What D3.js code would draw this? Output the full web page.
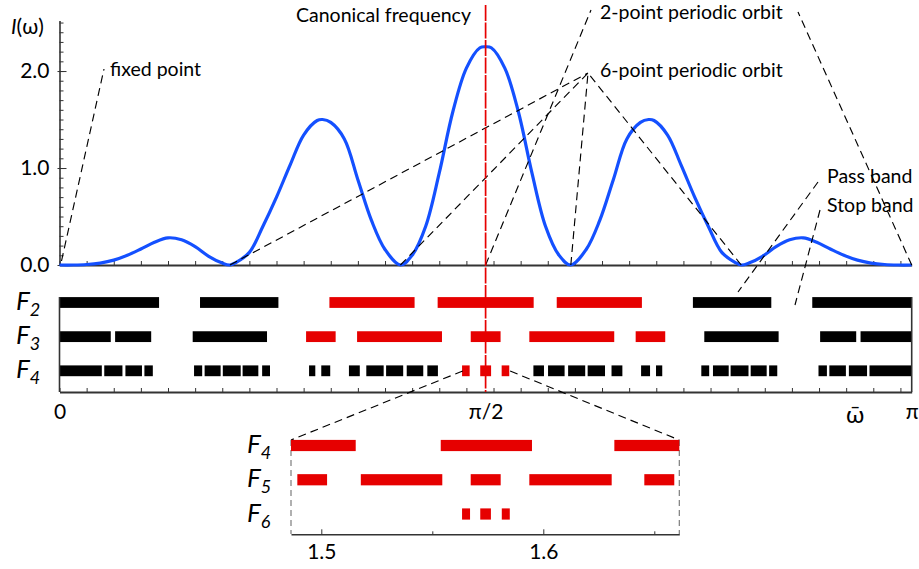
<!DOCTYPE html>
<html>
<head>
<meta charset="utf-8">
<script src="https://cdn.jsdelivr.net/npm/d3@7"></script>
<style>
  body { margin: 0; background: #fff; }
  svg { display: block; }
  text { font-family: Lato, "Open Sans", "DejaVu Sans", sans-serif; fill: #000; }
</style>
</head>
<body>
<svg id="chart" width="919" height="569"></svg>
<script>
// spectrum I(omega)
const omega = [0, 0.05, 0.10, 0.15, 0.20, 0.25, 0.30, 0.35, 0.40, 0.45, 0.50, 0.55, 0.60, 0.628, 0.65, 0.70,
  0.75, 0.80, 0.85, 0.90, 0.95, 0.97, 1.00, 1.05, 1.10, 1.15, 1.20, 1.257, 1.30, 1.35, 1.40, 1.45, 1.50, 1.55,
  1.5708,
  1.5916, 1.6416, 1.6916, 1.7416, 1.7916, 1.8416, 1.8846, 1.9416, 1.9916, 2.0416, 2.0916, 2.1416, 2.1716,
  2.1916, 2.2416, 2.2916, 2.3416, 2.3916, 2.4416, 2.4916, 2.5136, 2.5416, 2.5916, 2.6416, 2.6916, 2.7416,
  2.7916, 2.8416, 2.8916, 2.9416, 2.9916, 3.0416, 3.0916, 3.1416];
const intensity = [0, 0, 0.005, 0.02, 0.05, 0.10, 0.165, 0.235, 0.28, 0.26, 0.19, 0.09, 0.02, 0, 0.025, 0.13,
  0.40, 0.70, 1.03, 1.34, 1.49, 1.50, 1.47, 1.30, 0.88, 0.46, 0.16, 0, 0.10, 0.40, 0.95, 1.58, 2.03, 2.24,
  2.25,
  2.24, 2.03, 1.58, 0.95, 0.40, 0.10, 0, 0.16, 0.46, 0.88, 1.30, 1.47, 1.50,
  1.49, 1.34, 1.03, 0.70, 0.40, 0.13, 0.025, 0, 0.02, 0.09, 0.19, 0.26, 0.28,
  0.235, 0.165, 0.10, 0.05, 0.02, 0.005, 0, 0];

// pass bands [from, to] for each generation
const rowNames = ["F2", "F3", "F4"];
const bandsF2 = [[0, 0.367], [0.518, 0.807], [0.995, 1.309], [1.394, 1.748], [1.833, 2.147], [2.335, 2.624], [2.775, 3.1416]];
const bandsF3 = [[0, 0.189], [0.205, 0.338], [0.491, 0.765], [0.909, 1.018], [1.097, 1.410], [1.516, 1.626],
  [1.732, 2.045], [2.124, 2.233], [2.377, 2.651], [2.804, 2.937], [2.953, 3.1416]];
const bandsF4 = [[0, 0.156], [0.165, 0.232], [0.243, 0.304], [0.313, 0.344], [0.496, 0.526], [0.535, 0.594],
  [0.602, 0.668], [0.675, 0.733], [0.747, 0.776], [0.920, 0.943], [0.965, 0.998], [1.067, 1.107],
  [1.131, 1.195], [1.204, 1.267], [1.280, 1.341], [1.356, 1.395], [1.484, 1.512], [1.551, 1.591],
  [1.630, 1.658], [1.747, 1.786], [1.801, 1.862], [1.875, 1.938], [1.947, 2.011], [2.035, 2.075],
  [2.144, 2.177], [2.199, 2.222], [2.366, 2.395], [2.409, 2.467], [2.474, 2.540], [2.548, 2.607],
  [2.616, 2.646], [2.798, 2.829], [2.838, 2.899], [2.910, 2.977], [2.986, 3.1416]];
// cluster of bands around the canonical frequency (drawn red)
const canonicalSpan = [[0.99, 2.15], [0.90, 2.24], [1.48, 1.66]];

// zoomed inset
const insetRowNames = ["F4", "F5", "F6"];
const insetDomain = [1.48635, 1.66126];
const insetF4 = [[1.48635, 1.5155], [1.5538, 1.5949], [1.6320, 1.66126]];
const insetF5 = [[1.4892, 1.5026], [1.5178, 1.5545], [1.5673, 1.5808], [1.5937, 1.6308], [1.6455, 1.6590]];
const insetF6 = [[1.5634, 1.5670], [1.5716, 1.5764], [1.5813, 1.5849]];
const insetMajorTicks = [1.5, 1.6];
const insetMinorTicks = [1.55, 1.65];

const canonical = Math.PI / 2;
const omegaBar = 2.933;
const xLabelValues = [0, Math.PI / 2, Math.PI];
const xLabelText = ["0", "\u03c0/2", "\u03c0"];
const yLabelValues = [0, 1, 2];
const fixedPointTargets = [0];
const twoPointTargets = [Math.PI / 2, Math.PI];
const sixPointTargets = [Math.PI / 5, 2 * Math.PI / 5, 3 * Math.PI / 5, 4 * Math.PI / 5];

const svg = d3.select("#chart");
const RED = "#e60000";
const BLUE = "#1450ff";
const NUM_SIZE = 21;
const LABEL_SIZE = 19.5;

const x = d3.scaleLinear().domain([0, Math.PI]).range([59.5, 911.7]);
const y = d3.scaleLinear().domain([0, 2.52]).range([265, 20.6]);
const rowY = d3.scalePoint().domain(rowNames).range([302.5, 370.8]);
const xi = d3.scaleLinear().domain(insetDomain).range([291, 679.3]);
const insetY = d3.scalePoint().domain(insetRowNames).range([445.5, 514]);

const minorTicks = d3.range(0, 3.14, 0.1);

function styleAxis(g, w) {
  g.select(".domain").attr("stroke", "#333").attr("stroke-width", w);
  g.selectAll(".tick line").attr("stroke", "#333").attr("stroke-width", 1);
  g.selectAll("text").attr("font-size", NUM_SIZE).attr("fill", "#000")
    .attr("font-family", "Lato, 'Open Sans', 'DejaVu Sans', sans-serif");
}

// ---- top panel: spectrum ----
svg.append("g").attr("transform", "translate(0,265)")
  .call(d3.axisTop(x).tickValues(minorTicks).tickSize(4).tickSizeOuter(0).tickFormat(""))
  .call(g => styleAxis(g, 2));

svg.append("g").attr("transform", `translate(${x(0)},0)`)
  .call(d3.axisRight(y).tickValues(d3.range(0, 2.51, 0.1)).tickSize(4).tickSizeOuter(0).tickFormat(""))
  .call(g => styleAxis(g, 1.6));
svg.append("g").attr("transform", `translate(${x(0)},0)`)
  .call(d3.axisRight(y).tickValues(yLabelValues).tickSize(7).tickSizeOuter(0).tickFormat(""))
  .call(g => { g.select(".domain").remove(); g.selectAll(".tick line").attr("stroke", "#333").attr("x1", -2); });
svg.append("g").attr("transform", `translate(${x(0)},0)`)
  .call(d3.axisLeft(y).tickValues(yLabelValues).tickSize(0).tickPadding(10).tickFormat(d3.format(".1f")))
  .call(g => { g.select(".domain").remove(); styleAxis(g, 0); });

const yTitle = svg.append("text").attr("x", 11).attr("y", 34).attr("font-size", NUM_SIZE);
yTitle.append("tspan").attr("font-style", "italic").text("I");
yTitle.append("tspan").text("(\u03c9)");

const line = d3.line().x((d, i) => x(omega[i])).y(d => y(d)).curve(d3.curveCatmullRom.alpha(0.5));
svg.append("path").datum(intensity).attr("d", line)
  .attr("fill", "none").attr("stroke", BLUE).attr("stroke-width", 3.2);

// annotations
const dash = "8,5";
function leader(x1, y1, x2, y2, color = "#000", da = dash) {
  svg.append("line").attr("x1", x1).attr("y1", y1).attr("x2", x2).attr("y2", y2)
    .attr("stroke", color).attr("stroke-width", 1.15).attr("stroke-dasharray", da);
}
function label(txt, lx, ly, size = LABEL_SIZE) {
  svg.append("text").attr("x", lx).attr("y", ly).attr("font-size", size).text(txt);
}

fixedPointTargets.forEach(w => leader(x(w) + 2, y(0) - 4, 104, 69));
label("fixed point", 110, 76);

leader(x(twoPointTargets[0]), y(0), 591, 10);
leader(x(twoPointTargets[1]), y(0), 798, 12);
label("2-point periodic orbit", 600, 18.5);

sixPointTargets.forEach(w => leader(x(w), y(0), 588, 73));
label("6-point periodic orbit", 600, 77);

leader(818, 182, 738, 292);
label("Pass band", 827, 183);
leader(820, 210, 795, 305);
label("Stop band", 827, 212);

label("Canonical frequency", 296, 22);

// ---- middle panel: band structure ----
const bandSets = [bandsF2, bandsF3, bandsF4];
const barH = 10.8;
rowNames.forEach((name, r) => {
  const span = canonicalSpan[r];
  svg.append("g").selectAll("rect").data(bandSets[r]).join("rect")
    .attr("x", d => x(d[0]))
    .attr("width", d => x(d[1]) - x(d[0]))
    .attr("y", rowY(name) - barH / 2)
    .attr("height", barH)
    .attr("fill", d => (d[0] >= span[0] && d[1] <= span[1]) ? RED : "#000");
});

function fLabel(name, lx, cy) {
  const t = svg.append("text").attr("x", lx).attr("y", cy + 7.5).attr("font-style", "italic");
  t.append("tspan").attr("font-size", 26).text(name[0]);
  t.append("tspan").attr("font-size", 18).attr("dy", 6).text(name.slice(1));
}
rowNames.forEach(n => fLabel(n, 16, rowY(n)));

svg.append("g").attr("transform", "translate(0,392)")
  .call(d3.axisTop(x).tickValues(minorTicks).tickSize(4).tickSizeOuter(0).tickFormat(""))
  .call(g => styleAxis(g, 2));
[0, Math.PI].forEach(w => {
  svg.append("line").attr("x1", x(w)).attr("x2", x(w)).attr("y1", 297).attr("y2", 392)
    .attr("stroke", "#333").attr("stroke-width", 1.6);
});
svg.append("g").attr("transform", "translate(0,392)")
  .call(d3.axisBottom(x).tickValues(xLabelValues).tickSize(0).tickPadding(12.5)
    .tickFormat((d, i) => xLabelText[i]))
  .call(g => { g.select(".domain").remove(); styleAxis(g, 0); });
svg.append("text").attr("x", x(omegaBar)).attr("y", 423).attr("text-anchor", "middle")
  .attr("font-size", 24).text("\u03c9\u0304");

// canonical frequency marker
svg.append("line").attr("x1", x(canonical)).attr("x2", x(canonical)).attr("y1", 5).attr("y2", 392)
  .attr("stroke", RED).attr("stroke-width", 1.7).attr("stroke-dasharray", "16,1.5");

// ---- inset ----
leader(x(insetDomain[0]), 371, xi(insetDomain[0]), 440);
leader(x(insetDomain[1]), 371, xi(insetDomain[1]), 440);
insetDomain.forEach(w => leader(xi(w), 440, xi(w), 534, "#777", "6,4"));

const insetSets = [insetF4, insetF5, insetF6];
insetRowNames.forEach((name, r) => {
  svg.append("g").selectAll("rect").data(insetSets[r]).join("rect")
    .attr("x", d => xi(d[0]))
    .attr("width", d => xi(d[1]) - xi(d[0]))
    .attr("y", insetY(name) - 5.6)
    .attr("height", 11.2)
    .attr("fill", RED);
  fLabel(name, 247, insetY(name));
});

svg.append("g").attr("transform", "translate(0,534.3)")
  .call(d3.axisTop(xi).tickValues(insetMajorTicks).tickSize(5).tickSizeOuter(0).tickFormat(""))
  .call(g => styleAxis(g, 1.6));
svg.append("g").attr("transform", "translate(0,534.3)")
  .call(d3.axisTop(xi).tickValues(insetMinorTicks).tickSize(3).tickFormat(""))
  .call(g => { g.select(".domain").remove(); g.selectAll(".tick line").attr("stroke", "#333"); });
svg.append("g").attr("transform", "translate(0,534.3)")
  .call(d3.axisBottom(xi).tickValues(insetMajorTicks).tickSize(0).tickPadding(10).tickFormat(d3.format(".1f")))
  .call(g => { g.select(".domain").remove(); styleAxis(g, 0); });
</script>
</body>
</html>
